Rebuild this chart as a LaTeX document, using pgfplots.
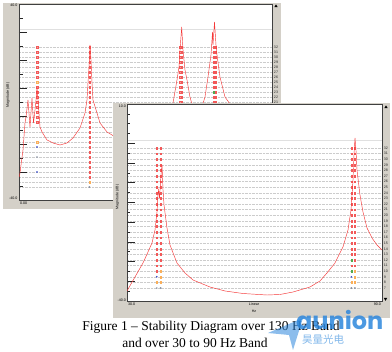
\documentclass[border=0pt]{standalone}
\usepackage{pgfplots}
\pgfplotsset{compat=1.18}
\usepackage{fontspec}
\setmainfont{Liberation Serif}
\setsansfont{Liberation Sans}
\newfontfamily\cjk{Noto Sans CJK SC}
\newfontfamily\logo{Poppins}
\newcommand\tf{\fontsize{3.6}{4}\selectfont\sffamily}
\definecolor{panel}{RGB}{212,208,200}
\definecolor{frf}{RGB}{245,55,55}
\definecolor{stab}{RGB}{240,60,60}
\definecolor{mkor}{RGB}{250,175,90}
\definecolor{mkbl}{RGB}{60,80,200}
\definecolor{mkgr}{RGB}{80,170,80}
\definecolor{mkgy}{RGB}{120,130,150}
\definecolor{aun}{RGB}{45,135,220}
\pgfplotsset{
 orderaxis/.style={scale only axis, anchor=south west, axis line style={draw=none},
   xtick=\empty, ytick pos=right, yticklabel pos=right, major tick length=0pt,
   ymajorgrids, grid style={densely dotted, black!20, line width=0.4pt},
   yticklabel style={font=\tf, anchor=west, inner sep=0pt, xshift=1.8pt, text=black!85},
   /pgf/number format/assume math mode=true,
   extra y tick labels={}, extra y tick style={grid style={solid, black!12, line width=0.5pt}},
   clip=false},
 dbaxis/.style={scale only axis, anchor=south west, axis line style={draw=black!75, line width=0.8pt},
   xtick=\empty, yticklabels={}, tick align=inside, ytick pos=left, xtick pos=left,
   major tick length=8pt, minor tick length=3.5pt, tick style={black!85, line width=0.6pt}, clip=true},
 redm/.style={only marks, mark=square*, mark size=0.7pt, mark options={draw=stab!85, fill=stab!50, line width=0.2pt, yscale=1.3}},
 orm/.style={only marks, mark=square*, mark size=0.7pt, mark options={draw=mkor, fill=mkor!50, line width=0.2pt, yscale=1.3}},
 grm/.style={only marks, mark=square*, mark size=0.7pt, mark options={draw=mkgr, fill=mkgr!50, line width=0.2pt, yscale=1.3}},
 blm/.style={only marks, mark=*, mark size=0.6pt, mark options={draw=mkbl, fill=mkbl}},
 gym/.style={only marks, mark=o, mark size=0.75pt, mark options={draw=mkgy, line width=0.3pt}},
}
\begin{document}
\begin{tikzpicture}[x=1pt,y=1pt]
\useasboundingbox (0,0) rectangle (392,352);
% ---------------- back panel (0 - 130 Hz)
\fill[panel] (3,143) rectangle (281,349);
\fill[white] (19,152) rectangle (272,348);
\begin{axis}[orderaxis, at={(19pt,152pt)}, width=253pt, height=196pt,
  xmin=0, xmax=130, ymin=1.4, ymax=40.6, ytick={4,...,32}, extra y ticks={35.6}]
\addplot[redm] coordinates {(9.25,17)(9.25,18)(9.25,19)(9.25,20)(9.25,21)(9.25,22)(9.25,23)(9.25,24)(9.25,26)(9.25,27)(9.25,28)(9.25,29)(9.25,30)(9.25,31)(9.25,32)};
\addplot[redm] coordinates {(36.2,6)(36.2,7)(36.2,8)(36.2,9)(36.2,10)(36.2,11)(36.2,12)(36.2,13)(36.2,14)(36.2,15)(36.2,16)(36.2,17)(36.2,18)(36.2,19)(36.2,20)(36.2,21)(36.2,22)(36.2,23)(36.2,24)(36.2,25)(36.2,26)(36.2,27)(36.2,28)(36.2,29)(36.2,30)(36.2,31)(36.2,32)};
\addplot[redm] coordinates {(82.7,6)(82.7,7)(82.7,8)(82.7,9)(82.7,10)(82.7,11)(82.7,12)(82.7,13)(82.7,14)(82.7,15)(82.7,16)(82.7,17)(82.7,18)(82.7,19)(82.7,20)(82.7,21)(82.7,22)(82.7,23)(82.7,24)(82.7,25)(82.7,26)(82.7,27)(82.7,28)(82.7,29)(82.7,30)(82.7,31)(82.7,32)};
\addplot[redm] coordinates {(83.7,6)(83.7,7)(83.7,8)(83.7,9)(83.7,10)(83.7,11)(83.7,12)(83.7,13)(83.7,14)(83.7,15)(83.7,16)(83.7,17)(83.7,18)(83.7,19)(83.7,20)(83.7,21)(83.7,22)(83.7,23)(83.7,24)(83.7,25)(83.7,26)(83.7,27)(83.7,28)(83.7,29)(83.7,30)(83.7,31)(83.7,32)};
\addplot[redm] coordinates {(99.9,6)(99.9,7)(99.9,8)(99.9,9)(99.9,10)(99.9,11)(99.9,12)(99.9,13)(99.9,14)(99.9,15)(99.9,16)(99.9,17)(99.9,18)(99.9,19)(99.9,20)(99.9,21)(99.9,22)(99.9,24)(99.9,25)(99.9,26)(99.9,27)(99.9,28)(99.9,29)(99.9,30)(99.9,31)(99.9,32)};
\addplot[redm] coordinates {(100.9,6)(100.9,7)(100.9,8)(100.9,9)(100.9,10)(100.9,11)(100.9,12)(100.9,13)(100.9,14)(100.9,15)(100.9,16)(100.9,17)(100.9,18)(100.9,19)(100.9,20)(100.9,21)(100.9,22)(100.9,23)(100.9,24)(100.9,25)(100.9,26)(100.9,27)(100.9,28)(100.9,29)(100.9,30)(100.9,31)(100.9,32)};
\addplot[orm] coordinates {(9.25,25)(9.25,13)(36.2,5)};
\addplot[grm] coordinates {(99.9,23)};
\addplot[blm] coordinates {(9.25,12)(9.25,7)};
\addplot[gym] coordinates {(9.25,10)(36.2,4)};
\end{axis}
\begin{axis}[dbaxis, at={(19pt,152pt)}, width=253pt, height=196pt,
  xmin=0, xmax=130, ymin=-40, ymax=40,
  ytick={40,28.57,17.14,5.71,-5.71,-17.14,-28.57,-40},
  minor ytick={34.29,22.86,11.43,0,-11.43,-22.86,-34.29},
  minor xtick={10,20,30,40,50,60,70,80,90,100,110,120}]
\addplot[frf, line width=0.45pt] table[x=f, y=db] {
f db
0.2 -30.5
0.51 -28.98
1.03 -25.71
2.06 -19.59
3.08 -8.57
3.60 -6.12
4.62 0.82
5.65 -10.20
6.68 1.63
7.45 -8.57
8.22 -3.27
8.74 0.82
9.25 6.12
9.76 0.82
10.79 -10.20
11.82 -12.24
14.39 -15.51
17.47 -16.73
21.07 -17.55
24.66 -16.73
27.75 -14.69
31.34 -10.61
33.91 -4.49
34.94 0.82
35.45 7.76
35.97 14.29
36.48 23.27
37.00 17.14
37.51 7.76
38.02 0.82
40.08 -4.49
41.62 -8.57
45.22 -12.24
47.79 -13.47
54.47 -16.33
62.17 -15.51
69.88 -12.24
75.02 -8.16
77.59 -3.27
79.13 -0.41
81.18 8.98
82.21 14.29
82.73 21.22
83.60 30.61
84.27 21.22
85.30 13.06
86.32 8.98
87.86 2.04
89.41 -2.45
91.46 -5.31
93.52 -3.27
95.57 2.04
97.11 10.20
98.65 19.18
99.43 28.57
99.68 23.27
100.45 32.65
101.22 23.27
101.74 19.18
103.28 10.20
105.85 2.04
108.42 -0.82
113.56 -4.08
121.27 -6.53
130.00 -8.16
};
\end{axis}
\node[font=\tf, anchor=east, inner sep=0] at (17.5,347) {40.0};
\node[font=\tf, anchor=east, inner sep=0] at (17.5,153.5) {-40.0};
\node[font=\tf, anchor=north west, inner sep=0] at (20,150) {0.00};
\node[font=\tf, rotate=90, inner sep=0] at (8,257) {Magnitude (dB)};
\fill[black] (274.3,344.8)--(277.7,344.8)--(276,347.6)--cycle;
% ---------------- front panel (30 - 90 Hz)
\fill[panel] (113,34) rectangle (390,249);
\fill[white] (127,51) rectangle (382,248);
\begin{axis}[orderaxis, at={(127pt,51pt)}, width=255pt, height=197pt,
  xmin=30, xmax=90, ymin=4.68, ymax=39.86, ytick={7,...,32}, extra y ticks={33.43}]
\addplot[redm] coordinates {(37.0,10)(37.0,11)(37.0,12)(37.0,13)(37.0,14)(37.0,15)(37.0,16)(37.0,17)(37.0,18)(37.0,19)(37.0,20)(37.0,21)(37.0,22)(37.0,23)(37.0,24)(37.0,25)(37.0,26)(37.0,27)(37.0,28)(37.0,29)(37.0,30)(37.0,31)(37.0,32)};
\addplot[redm] coordinates {(37.9,11)(37.9,12)(37.9,13)(37.9,14)(37.9,15)(37.9,16)(37.9,17)(37.9,18)(37.9,19)(37.9,20)(37.9,21)(37.9,22)(37.9,23)(37.9,24)(37.9,25)(37.9,26)(37.9,27)(37.9,28)(37.9,29)(37.9,30)(37.9,31)(37.9,32)};
\addplot[redm] coordinates {(82.8,11)(82.8,13)(82.8,14)(82.8,15)(82.8,16)(82.8,17)(82.8,18)(82.8,19)(82.8,20)(82.8,21)(82.8,22)(82.8,23)(82.8,24)(82.8,25)(82.8,26)(82.8,27)(82.8,28)(82.8,29)(82.8,30)(82.8,31)(82.8,32)};
\addplot[redm] coordinates {(83.6,11)(83.6,12)(83.6,13)(83.6,14)(83.6,15)(83.6,16)(83.6,17)(83.6,18)(83.6,19)(83.6,20)(83.6,21)(83.6,22)(83.6,23)(83.6,24)(83.6,25)(83.6,26)(83.6,27)(83.6,28)(83.6,29)(83.6,30)(83.6,31)(83.6,32)};
\addplot[orm] coordinates {(37.9,10)(37.9,9)(37.0,8)(37.9,8)(83.6,10)(83.6,9)(82.8,8)(83.6,8)};
\addplot[blm] coordinates {(37.0,9)(82.8,9)};
\addplot[grm] coordinates {(82.8,12)(82.8,10)};
\addplot[gym] coordinates {(37.0,7)(37.9,7)(82.8,7)(83.6,7)};
\end{axis}
\begin{axis}[dbaxis, at={(127pt,51pt)}, width=255pt, height=197pt,
  xmin=30, xmax=90, ymin=-40, ymax=10,
  ytick={0,-5,-10,-15,-20,-25,-30,-35,-40},
  minor ytick={10,7.5,5,2.5,-2.5,-7.5,-12.5,-17.5,-22.5,-27.5,-32.5,-37.5},
  minor xtick={35,40,45,50,55,60,65,70,75,80,85}]
\addplot[frf, line width=0.45pt] table[x=f, y=db] {
f db
30.00 -37.46
31.88 -33.91
33.76 -30.36
34.94 -27.56
35.88 -25.28
36.59 -21.98
37.06 -17.41
37.29 -13.10
37.44 -11.83
37.65 -13.86
38.00 -8.02
38.24 -5.48
38.47 -11.83
38.71 -15.63
39.41 -21.47
40.12 -25.79
41.76 -30.36
43.65 -32.89
45.53 -34.67
49.53 -36.45
53.06 -37.46
57.29 -38.10
62.94 -38.48
66.00 -38.35
69.06 -37.72
73.06 -36.45
75.41 -34.92
77.06 -32.89
78.94 -30.36
80.82 -26.29
82.00 -21.98
82.71 -16.90
83.18 -9.29
83.41 -2.94
83.65 1.37
83.88 -1.68
84.12 -6.75
84.82 -13.10
85.53 -17.41
86.47 -21.47
87.65 -24.01
88.82 -25.79
90.00 -27.06
};
\end{axis}
\node[font=\tf, anchor=east, inner sep=0] at (126,245.5) {10.0};
\node[font=\tf, anchor=east, inner sep=0] at (126,52) {-40.0};
\node[font=\tf, anchor=north west, inner sep=0] at (128,49) {30.0};
\node[font=\tf, anchor=north, inner sep=0] at (254,49) {Linear};
\node[font=\tf, anchor=north, inner sep=0] at (254,42.5) {Hz};
\node[font=\tf, anchor=north east, inner sep=0] at (381,49) {90.0};
\node[font=\tf, rotate=90, inner sep=0] at (117.5,155) {Magnitude (dB)};
\fill[black] (384.3,243.8)--(387.7,243.8)--(386,246.6)--cycle;
\fill[black] (383.8,54)--(387.2,54)--(385.5,51.2)--cycle;
% ---------------- caption
\node[anchor=base, inner sep=0, font=\fontsize{13.5}{15}\selectfont] at (211,21) {Figure 1 – Stability Diagram over 130 Hz Band};
\node[anchor=base, inner sep=0, font=\fontsize{13.5}{15}\selectfont] at (195,4) {and over 30 to 90 Hz Band};
% ---------------- watermark
\fill[aun, opacity=0.55] (268,19)--(303,34)--(293,2)--(289,17)--cycle;
\node[anchor=base west, inner sep=0, text=aun, opacity=0.85, font=\logo\bfseries\fontsize{24}{24}\selectfont] at (296,22) {aunion};
\node[anchor=base west, inner sep=0, text=aun, opacity=0.6, font=\cjk\fontsize{10.5}{10.5}\selectfont] at (302,8.5) {昊量光电};
\end{tikzpicture}
\end{document}
